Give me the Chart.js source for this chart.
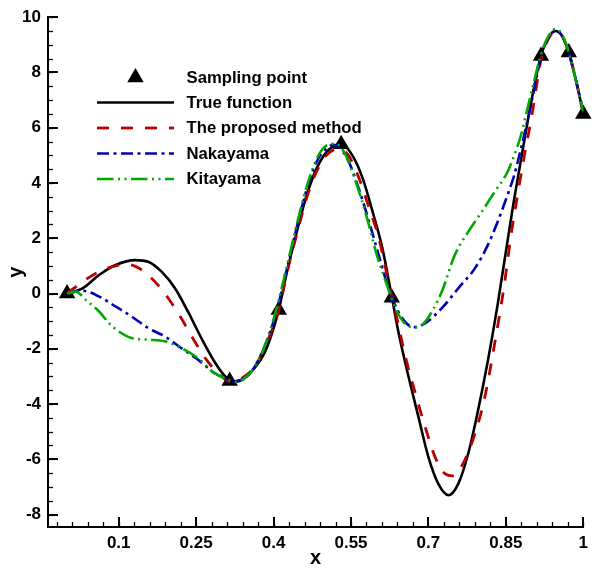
<!DOCTYPE html>
<html>
<head>
<meta charset="utf-8">
<script src="https://cdn.jsdelivr.net/npm/chart.js@4.4.1/dist/chart.umd.min.js"></script>
<style>
  html, body { margin: 0; padding: 0; background: #fff; }
  canvas { display: block; }
</style>
</head>
<body>
<canvas id="c" width="594" height="568"></canvas>
<script>
// ---- axis ticks ----
const xTickValues = [0.1, 0.25, 0.4, 0.55, 0.7, 0.85, 1.0];
const xTickLabels = ['0.1', '0.25', '0.4', '0.55', '0.7', '0.85', '1'];
const yTickValues = [-8, -6, -4, -2, 0, 2, 4, 6, 8, 10];

// ---- sampling points ----
const sampleX = [0, 0.315, 0.41, 0.531, 0.629, 0.918, 0.972, 1.0];
const sampleY = [0, -3.17, -0.6, 5.4, -0.15, 8.6, 8.72, 6.5];

// ---- true function ----
const trueX = [0, 0.03, 0.062, 0.094, 0.132, 0.157, 0.183, 0.209, 0.234, 0.26,
  0.285, 0.304, 0.315, 0.325, 0.345, 0.365, 0.381, 0.394, 0.41, 0.426,
  0.445, 0.464, 0.483, 0.502, 0.52, 0.531, 0.553, 0.573, 0.592, 0.611,
  0.629, 0.643, 0.662, 0.681, 0.70, 0.719, 0.739, 0.758, 0.777, 0.796,
  0.815, 0.834, 0.853, 0.866, 0.879, 0.892, 0.905, 0.918, 0.932, 0.946,
  0.958, 0.972, 0.986, 1.0];
const trueY = [0, 0.19, 0.67, 1.03, 1.21, 1.15, 0.79, 0.19, -0.65, -1.61,
  -2.45, -2.95, -3.12, -3.18, -3.05, -2.65, -2.2, -1.6, -0.6, 0.79,
  2.23, 3.55, 4.51, 5.11, 5.36, 5.4, 4.99, 4.15, 2.95, 1.63,
  -0.12, -1.49, -3.05, -4.49, -5.92, -6.88, -7.3, -6.88, -5.8, -4.24,
  -2.45, -0.41, 1.87, 3.4, 4.8, 6.2, 7.5, 8.6, 9.25, 9.5,
  9.35, 8.72, 7.7, 6.5];

// ---- the proposed method ----
const proposedX = [0, 0.03, 0.062, 0.1, 0.119, 0.145, 0.17, 0.196, 0.221, 0.247,
  0.272, 0.298, 0.318, 0.34, 0.365, 0.385, 0.41, 0.426, 0.445, 0.464,
  0.483, 0.502, 0.525, 0.545, 0.565, 0.585, 0.604, 0.624, 0.636, 0.656,
  0.675, 0.694, 0.713, 0.732, 0.748, 0.767, 0.79, 0.809, 0.828, 0.847,
  0.86, 0.873, 0.886, 0.9, 0.918, 0.932, 0.946, 0.958, 0.972, 0.986, 1.0];
const proposedY = [0, 0.43, 0.79, 1.03, 1.05, 0.85, 0.43, -0.17, -0.89, -1.73,
  -2.45, -2.98, -3.2, -3.05, -2.6, -1.85, -0.6, 0.75, 2.15, 3.45,
  4.4, 5.0, 5.23, 5.0, 4.2, 3.1, 2.0, 0.31, -0.65, -2.33,
  -3.64, -4.85, -5.92, -6.52, -6.6, -6.16, -5.08, -3.77, -1.85, 0.31,
  2.11, 3.6, 5.0, 6.4, 8.45, 9.2, 9.48, 9.35, 8.72, 7.7, 6.55];

// ---- Nakayama ----
const nakayamaX = [0, 0.03, 0.062, 0.094, 0.125, 0.157, 0.189, 0.221, 0.253, 0.285,
  0.304, 0.322, 0.345, 0.365, 0.385, 0.405, 0.426, 0.445, 0.464, 0.483,
  0.502, 0.517, 0.527, 0.545, 0.565, 0.585, 0.605, 0.62, 0.635, 0.649,
  0.671, 0.694, 0.726, 0.758, 0.79, 0.815, 0.834, 0.853, 0.866, 0.876,
  0.89, 0.905, 0.918, 0.932, 0.946, 0.958, 0.972, 0.986, 1.0];
const nakayamaY = [0, 0.1, -0.11, -0.47, -0.83, -1.25, -1.55, -1.97, -2.39, -2.87,
  -3.05, -3.2, -3.05, -2.6, -1.8, -0.7, 0.9, 2.4, 3.75, 4.75,
  5.25, 5.38, 5.3, 4.8, 3.8, 2.6, 1.3, 0.35, -0.4, -0.89,
  -1.22, -1.07, -0.53, 0.19, 0.91, 1.75, 2.59, 3.55, 4.27, 4.99,
  6.1, 7.4, 8.55, 9.25, 9.5, 9.35, 8.72, 7.7, 6.6];

// ---- Kitayama ----
const kitayamaX = [0, 0.017, 0.036, 0.062, 0.081, 0.1, 0.125, 0.157, 0.189, 0.221,
  0.253, 0.285, 0.311, 0.328, 0.345, 0.365, 0.385, 0.405, 0.426, 0.445,
  0.464, 0.483, 0.502, 0.52, 0.54, 0.56, 0.58, 0.6, 0.618, 0.636,
  0.655, 0.672, 0.69, 0.71, 0.726, 0.751, 0.777, 0.803, 0.828, 0.853,
  0.866, 0.879, 0.892, 0.905, 0.918, 0.932, 0.946, 0.958, 0.972, 0.986, 1.0];
const kitayamaY = [0, 0.07, -0.23, -0.65, -1.07, -1.37, -1.61, -1.67, -1.73, -1.97,
  -2.33, -2.87, -3.1, -3.2, -3.05, -2.6, -1.8, -0.6, 1.0, 2.5,
  3.85, 4.85, 5.35, 5.42, 5.0, 4.0, 2.8, 1.4, 0.4, -0.53,
  -1.1, -1.22, -1.1, -0.55, 0.07, 1.39, 2.23, 2.95, 3.67, 4.39,
  4.99, 5.71, 6.7, 7.7, 8.65, 9.3, 9.57, 9.4, 8.72, 7.7, 6.6];

const FONT = "'Liberation Sans', Arial, Helvetica, sans-serif";
const MARKER_RADIUS = 9.5;

function zip(xs, ys) {
  return xs.map((x, i) => ({ x: x, y: ys[i] }));
}

function lineSet(label, xs, ys, color, dash, width) {
  return {
    label: label,
    data: zip(xs, ys),
    showLine: true,
    borderColor: color,
    backgroundColor: color,
    borderWidth: width,
    borderDash: dash,
    borderCapStyle: 'butt',
    borderJoinStyle: 'round',
    cubicInterpolationMode: 'monotone',
    pointRadius: 0,
    pointHoverRadius: 0,
    fill: false
  };
}

// Inward major/minor tick marks on both axes
const axisTicks = {
  id: 'axisTicks',
  afterDraw(chart) {
    const { ctx, chartArea: a, scales } = chart;
    const xs = scales.x, ys = scales.y;
    ctx.save();
    ctx.strokeStyle = '#000';
    // minor ticks
    ctx.lineWidth = 1.3;
    for (let i = 0; i < 40; i++) {
      const v = -0.02 + i * 0.03;
      if (v > 1.0001) break;
      const px = Math.round(xs.getPixelForValue(v)) + 0.5;
      ctx.beginPath();
      ctx.moveTo(px, a.bottom);
      ctx.lineTo(px, a.bottom - 5);
      ctx.stroke();
    }
    for (let i = 0; i <= 36; i++) {
      const v = -8 + i * 0.5;
      const py = Math.round(ys.getPixelForValue(v)) + 0.5;
      ctx.beginPath();
      ctx.moveTo(a.left, py);
      ctx.lineTo(a.left + 5, py);
      ctx.stroke();
    }
    // major ticks
    ctx.lineWidth = 2;
    for (const v of xTickValues) {
      const px = Math.round(xs.getPixelForValue(v));
      ctx.beginPath();
      ctx.moveTo(px, a.bottom);
      ctx.lineTo(px, a.bottom - 10);
      ctx.stroke();
    }
    for (const v of yTickValues) {
      const py = Math.round(ys.getPixelForValue(v));
      ctx.beginPath();
      ctx.moveTo(a.left, py);
      ctx.lineTo(a.left + 10, py);
      ctx.stroke();
    }
    ctx.restore();
  }
};

// Legend box in the upper-left of the plot
const plotLegend = {
  id: 'plotLegend',
  afterDraw(chart) {
    const ctx = chart.ctx;
    const sets = chart.data.datasets;
    const byLabel = (l) => sets.find(d => d.label === l);
    const x0 = 97, x1 = 174, tx = 186.5;
    const rows = [
      { label: 'Sampling point', y: 77.5, marker: true },
      { label: 'True function', y: 102.5 },
      { label: 'The proposed method', y: 128 },
      { label: 'Nakayama', y: 153.5 },
      { label: 'Kitayama', y: 179 }
    ];
    ctx.save();
    for (const r of rows) {
      const ds = byLabel(r.label);
      if (r.marker) {
        Chart.helpers.drawPoint(ctx, {
          pointStyle: 'triangle', radius: MARKER_RADIUS, rotation: 0, borderWidth: 0
        }, 135.5, r.y);
        ctx.fillStyle = '#000';
      } else {
        ctx.beginPath();
        ctx.setLineDash(ds.borderDash || []);
        ctx.lineDashOffset = 0;
        ctx.lineWidth = ds.borderWidth;
        ctx.strokeStyle = ds.borderColor;
        ctx.lineCap = 'butt';
        ctx.moveTo(x0, r.y);
        ctx.lineTo(x1, r.y);
        ctx.stroke();
        ctx.setLineDash([]);
      }
      ctx.fillStyle = '#000';
      ctx.font = 'bold 16.7px ' + FONT;
      ctx.textAlign = 'left';
      ctx.textBaseline = 'middle';
      ctx.fillText(r.label, tx, r.y + 0.5);
    }
    ctx.restore();
  }
};

const samples = {
  label: 'Sampling point',
  data: zip(sampleX, sampleY),
  showLine: false,
  pointStyle: 'triangle',
  pointRadius: MARKER_RADIUS,
  pointHoverRadius: MARKER_RADIUS,
  pointBackgroundColor: '#000',
  pointBorderColor: '#000',
  pointBorderWidth: 0,
  clip: false
};

new Chart(document.getElementById('c'), {
  type: 'scatter',
  data: {
    datasets: [
      lineSet('Kitayama', kitayamaX, kitayamaY, '#00a800', [16.5, 4.5, 2, 4.5, 2, 4.5], 2.6),
      lineSet('Nakayama', nakayamaX, nakayamaY, '#0000b4', [12, 4.5, 3, 4.5], 2.6),
      lineSet('The proposed method', proposedX, proposedY, '#b80000', [12, 12], 2.8),
      lineSet('True function', trueX, trueY, '#000000', [], 2.6),
      samples
    ]
  },
  options: {
    responsive: false,
    devicePixelRatio: 1,
    animation: false,
    events: [],
    layout: { padding: { left: 0, right: 5, top: 14, bottom: 0 } },
    plugins: {
      legend: { display: false },
      tooltip: { enabled: false },
      title: { display: false }
    },
    scales: {
      x: {
        type: 'linear',
        min: -0.037,
        max: 1.0,
        afterFit(scale) { scale.height = 41; },
        afterBuildTicks(scale) { scale.ticks = xTickValues.map(v => ({ value: v })); },
        grid: { display: false, drawTicks: false },
        border: { display: true, color: '#000', width: 2 },
        ticks: {
          padding: 6,
          color: '#000',
          font: { family: FONT, size: 17, weight: 'bold' },
          maxRotation: 0,
          autoSkip: false,
          callback(value) {
            const i = xTickValues.findIndex(v => Math.abs(v - value) < 1e-9);
            return i >= 0 ? xTickLabels[i] : '';
          }
        },
        title: {
          display: true,
          text: 'x',
          color: '#000',
          font: { family: FONT, size: 20, weight: 'bold', lineHeight: 1 },
          padding: { top: 0, bottom: 0 }
        }
      },
      y: {
        type: 'linear',
        min: -8.45,
        max: 10,
        afterFit(scale) { scale.width = 48; },
        afterBuildTicks(scale) { scale.ticks = yTickValues.map(v => ({ value: v })); },
        grid: { display: false, drawTicks: false },
        border: { display: true, color: '#000', width: 2 },
        ticks: {
          padding: 7,
          color: '#000',
          font: { family: FONT, size: 17, weight: 'bold' },
          autoSkip: false,
          callback(value) { return String(value); }
        },
        title: {
          display: true,
          text: 'y',
          color: '#000',
          font: { family: FONT, size: 20, weight: 'bold', lineHeight: 1 },
          padding: { top: 6, bottom: 0 }
        }
      }
    }
  },
  plugins: [axisTicks, plotLegend]
});
</script>
</body>
</html>
